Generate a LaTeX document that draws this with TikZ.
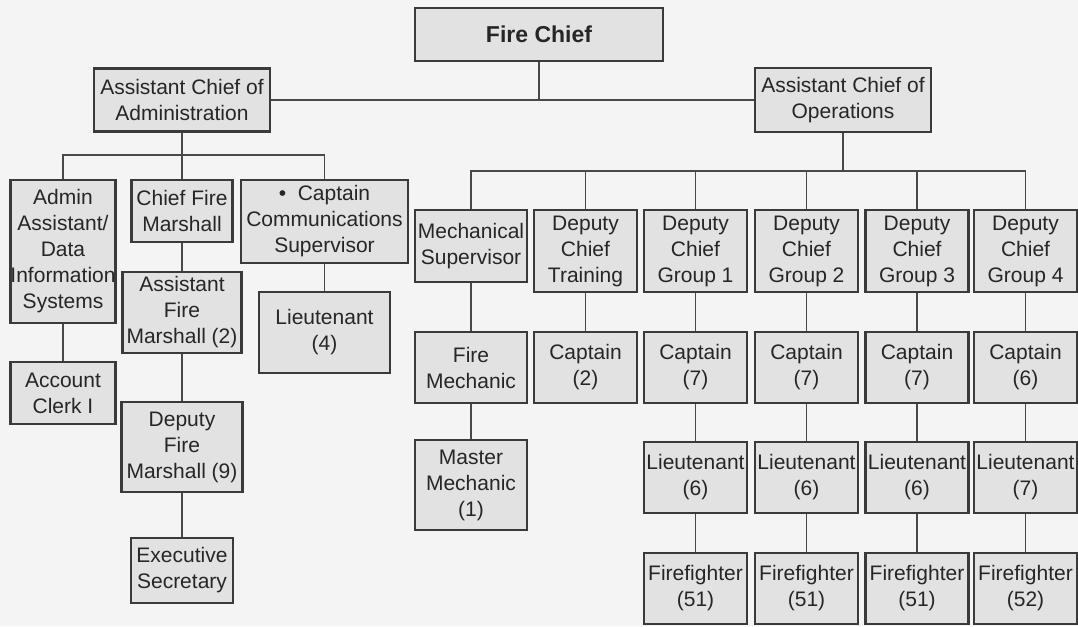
\documentclass[tikz,border=0pt]{standalone}
\usepackage{fontspec}
\setmainfont{Liberation Sans}
\definecolor{boxfill}{HTML}{E2E2E2}
\definecolor{boxline}{HTML}{3A3A3A}
\definecolor{wire}{HTML}{484848}
\definecolor{ink}{HTML}{262626}
\definecolor{paper}{HTML}{F4F4F4}
\tikzset{
  orgbox/.style={draw=boxline, line width=2.2pt, fill=boxfill, inner sep=0pt,
    align=center, text=ink, font=\fontsize{21}{26}\selectfont},
  colbox/.style={orgbox, minimum width=103pt, minimum height=71pt},
  depbox/.style={orgbox, minimum width=103pt, minimum height=82pt},
  mechbox/.style={orgbox, minimum width=112pt},
  wireline/.style={draw=wire, line width=1.8pt},
}
\begin{document}
\begin{tikzpicture}[x=1pt,y=-1pt]
\fill[paper] (0,0) rectangle (1078,626);
\useasboundingbox (0,0) rectangle (1078,626);

% top
\node[orgbox, minimum width=248pt, minimum height=53pt, font=\fontsize{23}{28}\selectfont\bfseries] (fc) at (539,34.5) {Fire Chief};
\node[orgbox, minimum width=176pt, minimum height=63pt] (aca) at (182,100) {Assistant Chief of\\Administration};
\node[orgbox, minimum width=176pt, minimum height=64pt] (aco) at (843,100) {Assistant Chief of\\Operations};

% administration branch
\node[orgbox, minimum width=103pt, minimum height=143pt] (adm) at (63,251.5) {Admin\\Assistant/\\Data\\Information\\Systems};
\node[orgbox, minimum width=101pt, minimum height=62pt] (cfm) at (182,211) {Chief Fire\\Marshall};
\node[orgbox, minimum width=167pt, minimum height=83pt] (ccs) at (324.5,221.5) {\textbullet\ \ Captain\\Communications\\Supervisor};
\node[orgbox, minimum width=119pt, minimum height=81pt] (afm) at (182,312.5) {Assistant\\Fire\\Marshall (2)};
\node[orgbox, minimum width=131pt, minimum height=81pt] (lt4) at (324.5,332.5) {Lieutenant\\(4)};
\node[orgbox, minimum width=105pt, minimum height=62pt] (acc) at (63,393) {Account\\Clerk I};
\node[orgbox, minimum width=121pt, minimum height=90pt] (dfm) at (182,447) {Deputy\\Fire\\Marshall (9)};
\node[orgbox, minimum width=102pt, minimum height=65pt] (exs) at (182,570.5) {Executive\\Secretary};

% operations branch
\node[mechbox, minimum height=72pt] (ms) at (471,246) {Mechanical\\Supervisor};
\node[mechbox, minimum height=71pt] (fm) at (471,367.5) {Fire\\Mechanic};
\node[mechbox, minimum height=90pt] (mm) at (471,485) {Master\\Mechanic\\(1)};

\node[depbox] (dct) at (585.5,251) {Deputy\\Chief\\Training};
\node[depbox] (dg1) at (695.5,251) {Deputy\\Chief\\Group 1};
\node[depbox] (dg2) at (806.5,251) {Deputy\\Chief\\Group 2};
\node[depbox] (dg3) at (917,251) {Deputy\\Chief\\Group 3};
\node[depbox] (dg4) at (1025.5,251) {Deputy\\Chief\\Group 4};

\node[colbox] (cpt) at (585.5,367.5) {Captain\\(2)};
\node[colbox] (cp1) at (695.5,367.5) {Captain\\(7)};
\node[colbox] (cp2) at (806.5,367.5) {Captain\\(7)};
\node[colbox] (cp3) at (917,367.5) {Captain\\(7)};
\node[colbox] (cp4) at (1025.5,367.5) {Captain\\(6)};

\node[colbox] (lt1) at (695.5,477.5) {Lieutenant\\(6)};
\node[colbox] (lt2) at (806.5,477.5) {Lieutenant\\(6)};
\node[colbox] (lt3) at (917,477.5) {Lieutenant\\(6)};
\node[colbox] (ltf) at (1025.5,477.5) {Lieutenant\\(7)};

\node[colbox] (ff1) at (695.5,588.5) {Firefighter\\(51)};
\node[colbox] (ff2) at (806.5,588.5) {Firefighter\\(51)};
\node[colbox] (ff3) at (917,588.5) {Firefighter\\(51)};
\node[colbox] (ff4) at (1025.5,588.5) {Firefighter\\(52)};

% connectors
\coordinate (lb) at (182,155);
\coordinate (rb) at (843,171);

\begin{scope}[on background layer/.try]
\end{scope}

\draw[wireline] (aca.east) -- (aco.west);
\draw[wireline] (fc.south) -- (fc.south |- aca.east);

\draw[wireline] (aca.south) -- (lb);
\draw[wireline] (adm.north) |- (lb) -| (ccs.north);
\draw[wireline] (lb) -- (cfm.north);
\draw[wireline] (adm.south) -- (acc.north);
\draw[wireline] (cfm.south) -- (afm.north);
\draw[wireline] (afm.south) -- (dfm.north);
\draw[wireline] (dfm.south) -- (exs.north);
\draw[wireline] (ccs.south) -- (lt4.north);

\draw[wireline] (aco.south) -- (rb);
\draw[wireline] (ms.north) |- (rb) -| (dg4.north);
\draw[wireline] (dct.north) -- (dct.north |- rb);
\draw[wireline] (dg1.north) -- (dg1.north |- rb);
\draw[wireline] (dg2.north) -- (dg2.north |- rb);
\draw[wireline] (dg3.north) -- (dg3.north |- rb);

\draw[wireline] (ms.south) -- (fm.north);
\draw[wireline] (fm.south) -- (mm.north);
\draw[wireline] (dct.south) -- (cpt.north);
\draw[wireline] (dg1.south) -- (cp1.north);
\draw[wireline] (dg2.south) -- (cp2.north);
\draw[wireline] (dg3.south) -- (cp3.north);
\draw[wireline] (dg4.south) -- (cp4.north);
\draw[wireline] (cp1.south) -- (lt1.north);
\draw[wireline] (cp2.south) -- (lt2.north);
\draw[wireline] (cp3.south) -- (lt3.north);
\draw[wireline] (cp4.south) -- (ltf.north);
\draw[wireline] (lt1.south) -- (ff1.north);
\draw[wireline] (lt2.south) -- (ff2.north);
\draw[wireline] (lt3.south) -- (ff3.north);
\draw[wireline] (ltf.south) -- (ff4.north);
\end{tikzpicture}
\end{document}
